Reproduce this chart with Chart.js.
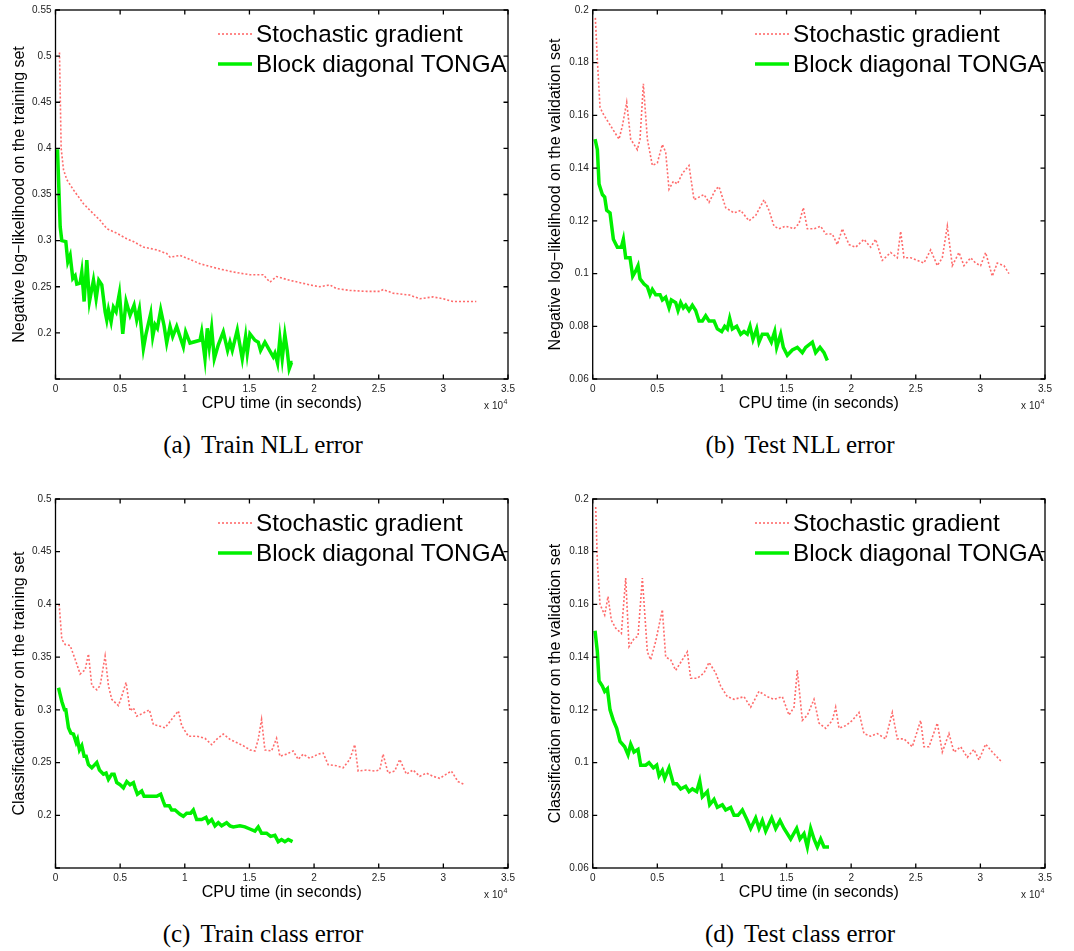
<!DOCTYPE html>
<html>
<head>
<meta charset="utf-8">
<script src="https://cdn.jsdelivr.net/npm/chart.js@4.4.1/dist/chart.umd.min.js"></script>
<style>
  body { margin: 0; background: #fff; }
  #page { position: relative; width: 1074px; height: 951px; overflow: hidden; background: #fff; }
  canvas { position: absolute; }
  .caption {
    position: absolute; width: 534px; text-align: center; line-height: 1;
    font-family: "Liberation Serif", "Times New Roman", serif; font-size: 25px; color: #000;
  }
  .caption .tag { margin-right: 10px; }
</style>
</head>
<body>
<div id="page">
  <canvas id="trainNll" width="534" height="420" style="left:0;top:0"></canvas>
  <canvas id="testNll" width="534" height="420" style="left:534px;top:0"></canvas>
  <canvas id="trainClass" width="534" height="420" style="left:0;top:489px"></canvas>
  <canvas id="testClass" width="534" height="420" style="left:534px;top:489px"></canvas>
  <div class="caption" style="left:-4px;top:432px"><span class="tag">(a)</span>Train NLL error</div>
  <div class="caption" style="left:533px;top:432px"><span class="tag">(b)</span>Test NLL error</div>
  <div class="caption" style="left:-4px;top:921px"><span class="tag">(c)</span>Train class error</div>
  <div class="caption" style="left:533px;top:921px"><span class="tag">(d)</span>Test class error</div>
</div>
<script>
// CPU time in seconds
const seriesNames = ["Stochastic gradient", "Block diagonal TONGA"];

// (a) train NLL
const trainNllSgdTime = [309,438,618,876,1391,2163,2936,3451,3966,4739,5511,6026,6798,7828,8601,8858,9631,10146,11176,12463,13751,15038,16068,16583,17098,18128,19673,20446,21218,21733,22763,24051,25081,25338,26111,27398,28171,29201,29973,30746,31776,32548];
const trainNllSgd = [0.504,0.400,0.377,0.366,0.355,0.340,0.329,0.322,0.313,0.308,0.302,0.299,0.293,0.290,0.286,0.282,0.284,0.281,0.275,0.270,0.266,0.263,0.263,0.255,0.261,0.257,0.252,0.250,0.252,0.248,0.246,0.245,0.245,0.247,0.243,0.241,0.237,0.239,0.237,0.234,0.234,0.234];
const trainNllTongaTime = [155,361,489,798,953,1133,1339,1519,1648,1906,2034,2215,2421,2627,2936,3142,3348,3580,3837,3966,4095,4301,4481,4687,4944,5202,5459,5768,6077,6283,6489,6798,7004,7365,7519,7700,7880,8137,8395,8601,8858,9064,9373,9888,10068,10403,11176,11304,11562,11742,11897,12077,12283,12592,12978,13313,13493,13673,14060,14446,14703,14832,15038,15424,15682,15862,16197,16841,16970,17176,17356,17536,17742,17922,18077,18257,18334];
const trainNllTonga = [0.399,0.315,0.300,0.299,0.277,0.284,0.259,0.262,0.253,0.254,0.266,0.234,0.279,0.234,0.257,0.237,0.257,0.252,0.223,0.214,0.225,0.212,0.228,0.223,0.243,0.199,0.234,0.219,0.230,0.214,0.226,0.183,0.199,0.221,0.196,0.209,0.205,0.225,0.208,0.189,0.207,0.196,0.207,0.185,0.201,0.189,0.192,0.201,0.172,0.205,0.185,0.205,0.172,0.187,0.201,0.181,0.190,0.181,0.203,0.172,0.196,0.178,0.199,0.192,0.190,0.181,0.190,0.174,0.178,0.167,0.194,0.172,0.198,0.181,0.161,0.168,0.168];

// (b) test NLL
const testNllSgdTime = [206,361,567,877,1393,2037,2295,2631,2940,3198,3456,3662,3920,4230,4616,5003,5390,5648,5906,6241,6551,6938,7453,7840,8227,8614,9001,9517,9774,10290,10935,11451,12096,12611,13256,13643,14030,14417,14932,15577,15964,16299,16609,17125,17640,18027,18543,18930,19317,19833,20348,20993,21509,21896,22411,23056,23572,23830,24088,24603,25119,25635,26151,26667,27053,27440,27827,28343,28730,29245,29632,30019,30406,30921,31308,31824,32211];
const testNllSgd = [0.197,0.181,0.163,0.160,0.156,0.151,0.156,0.165,0.151,0.149,0.147,0.151,0.172,0.151,0.141,0.142,0.149,0.146,0.132,0.135,0.134,0.138,0.141,0.128,0.129,0.130,0.127,0.132,0.133,0.125,0.123,0.124,0.120,0.122,0.128,0.124,0.118,0.117,0.118,0.117,0.119,0.125,0.117,0.117,0.118,0.115,0.115,0.111,0.117,0.111,0.110,0.113,0.110,0.113,0.105,0.108,0.106,0.116,0.106,0.106,0.105,0.104,0.109,0.103,0.106,0.118,0.103,0.108,0.103,0.106,0.104,0.103,0.108,0.099,0.104,0.103,0.100];
const testNllTongaTime = [181,361,490,748,928,1083,1341,1599,1908,2218,2373,2553,2888,3095,3327,3507,3662,3972,4230,4436,4616,4874,5210,5390,5648,5906,6086,6422,6602,6809,7015,7195,7453,7711,7969,8227,8485,8743,9001,9388,9645,9981,10213,10419,10600,10806,11141,11451,11709,11967,12173,12405,12689,12869,13127,13514,13824,14082,14236,14546,14752,15061,15448,15835,16222,16480,16996,17253,17589,17898,18156];
const testNllTonga = [0.151,0.147,0.134,0.130,0.129,0.124,0.123,0.113,0.110,0.110,0.113,0.106,0.106,0.099,0.101,0.103,0.098,0.096,0.095,0.092,0.094,0.092,0.092,0.090,0.091,0.087,0.090,0.089,0.086,0.089,0.087,0.088,0.086,0.088,0.086,0.082,0.082,0.084,0.082,0.082,0.079,0.078,0.080,0.079,0.083,0.079,0.080,0.077,0.078,0.077,0.080,0.075,0.079,0.074,0.077,0.077,0.074,0.078,0.072,0.077,0.072,0.069,0.071,0.072,0.070,0.072,0.074,0.070,0.072,0.070,0.067];

// (c) train classification error
const trainClassSgdTime = [283,489,747,1133,1519,1906,2292,2549,2807,3193,3451,3837,4094,4352,4867,5124,5459,5768,6026,6283,6798,7262,7571,7957,8472,8987,9502,9760,10275,10918,11562,12077,12463,12978,13493,14008,14523,15038,15424,15682,15939,16197,16712,17098,17356,17871,18386,18772,19158,19673,20317,20703,21089,21733,22248,22763,23149,23407,24051,24694,25081,25338,25724,26239,26626,27141,27656,28171,28686,29201,29716,30231,30617,31132,31647];
const trainClassSgd = [0.400,0.367,0.362,0.361,0.348,0.334,0.338,0.353,0.323,0.319,0.323,0.351,0.323,0.310,0.304,0.313,0.326,0.299,0.302,0.294,0.297,0.300,0.286,0.285,0.283,0.291,0.299,0.285,0.275,0.275,0.273,0.267,0.272,0.277,0.272,0.269,0.266,0.262,0.261,0.272,0.291,0.262,0.261,0.273,0.256,0.258,0.261,0.253,0.258,0.254,0.258,0.259,0.248,0.247,0.245,0.253,0.267,0.242,0.243,0.242,0.243,0.258,0.240,0.242,0.253,0.239,0.243,0.237,0.240,0.237,0.235,0.239,0.242,0.232,0.229];
const trainClassTongaTime = [232,489,695,798,1004,1185,1391,1597,1700,1854,2034,2215,2369,2549,2807,3193,3399,3708,3914,4094,4352,4532,4738,4996,5253,5511,5768,6026,6154,6335,6669,6850,7184,7828,8137,8343,8472,8807,8987,9244,9631,9888,10146,10455,10661,10918,11304,11639,11819,12077,12334,12592,12849,13236,13493,13751,14266,14652,15038,15424,15682,15939,16326,16635,16970,17228,17485,17742,18000,18334];
const trainClassTonga = [0.321,0.308,0.300,0.300,0.283,0.278,0.277,0.269,0.272,0.262,0.266,0.256,0.256,0.248,0.245,0.250,0.243,0.239,0.240,0.234,0.239,0.239,0.231,0.229,0.226,0.232,0.229,0.231,0.226,0.220,0.223,0.218,0.218,0.218,0.220,0.213,0.209,0.209,0.205,0.205,0.201,0.199,0.202,0.202,0.205,0.196,0.196,0.198,0.193,0.196,0.190,0.193,0.190,0.193,0.190,0.189,0.190,0.189,0.187,0.185,0.189,0.183,0.183,0.180,0.181,0.175,0.177,0.175,0.177,0.175];

// (d) test classification error
const testClassSgdTime = [232,361,567,928,1186,1444,1779,2218,2553,2811,3198,3507,3843,4230,4487,4874,5390,5648,6035,6422,6938,7324,7582,8098,8614,9001,9517,9903,10419,10935,11709,12225,12869,13514,14030,14674,15190,15577,15835,16222,16609,17125,17511,18027,18543,18801,19059,19575,20090,20606,20993,21509,22025,22670,23185,23572,24088,24733,25377,25635,26022,26667,27053,27569,27956,28472,28988,29504,29890,30406,30921,31308,31695];
const testClassSgd = [0.197,0.176,0.160,0.156,0.163,0.154,0.151,0.149,0.170,0.144,0.147,0.148,0.170,0.142,0.139,0.146,0.158,0.140,0.139,0.135,0.139,0.142,0.132,0.132,0.134,0.138,0.134,0.129,0.125,0.124,0.125,0.121,0.127,0.125,0.124,0.125,0.118,0.121,0.135,0.116,0.118,0.124,0.115,0.113,0.116,0.121,0.113,0.114,0.116,0.119,0.111,0.110,0.111,0.109,0.119,0.109,0.109,0.106,0.116,0.106,0.106,0.115,0.104,0.111,0.104,0.106,0.102,0.105,0.101,0.107,0.104,0.102,0.100];
const testClassTongaTime = [181,361,490,748,928,1135,1341,1599,1857,2115,2476,2734,2940,3198,3507,3714,4101,4359,4694,4952,5132,5390,5571,5906,6241,6499,6809,7195,7453,7711,8047,8279,8485,8872,9052,9388,9645,10032,10290,10677,10935,11245,11580,11967,12225,12611,12869,13127,13385,13849,14159,14494,14804,15319,15784,16041,16351,16609,16867,17125,17382,17640,17898,18285];
const testClassTonga = [0.150,0.142,0.131,0.129,0.127,0.128,0.120,0.116,0.113,0.108,0.106,0.103,0.107,0.104,0.105,0.099,0.099,0.100,0.098,0.099,0.095,0.097,0.094,0.098,0.092,0.092,0.090,0.091,0.089,0.090,0.089,0.093,0.087,0.089,0.084,0.086,0.083,0.084,0.082,0.083,0.080,0.080,0.082,0.078,0.075,0.079,0.075,0.078,0.074,0.079,0.075,0.078,0.075,0.071,0.075,0.071,0.073,0.068,0.075,0.071,0.068,0.071,0.068,0.068];

const sansFont = '"Liberation Sans", Arial, Helvetica, sans-serif';

const toPoints = (xs, ys) => xs.map((t, i) => ({ x: t, y: ys[i] }));

// matlab style box, inward ticks, legend inside the axes and the x10^4 note
const matlabFrame = {
  id: "matlabFrame",
  afterDraw(chart) {
    const { ctx, chartArea: a } = chart;
    const x = chart.scales.x, y = chart.scales.y;
    ctx.save();

    ctx.textBaseline = "middle";
    ctx.font = "24.3px " + sansFont;
    chart.data.datasets.forEach((ds, i) => {
      const ly = a.top + 24 + i * 30;
      ctx.beginPath();
      ctx.strokeStyle = ds.borderColor;
      ctx.lineWidth = ds.borderWidth;
      ctx.setLineDash(ds.borderDash || []);
      ctx.moveTo(a.right - 290, ly);
      ctx.lineTo(a.right - 256, ly);
      ctx.stroke();
      ctx.setLineDash([]);
      ctx.fillStyle = "#000";
      ctx.textAlign = "left";
      ctx.fillText(ds.label, a.right - 252, ly + 1);
    });

    ctx.strokeStyle = "#000";
    ctx.lineWidth = 1.3;
    ctx.strokeRect(a.left, a.top, a.right - a.left, a.bottom - a.top);

    const tl = 4.5;
    ctx.beginPath();
    x.ticks.forEach((tk) => {
      const px = x.getPixelForValue(tk.value);
      ctx.moveTo(px, a.bottom); ctx.lineTo(px, a.bottom - tl);
      ctx.moveTo(px, a.top); ctx.lineTo(px, a.top + tl);
    });
    y.ticks.forEach((tk) => {
      const py = y.getPixelForValue(tk.value);
      ctx.moveTo(a.left, py); ctx.lineTo(a.left + tl, py);
      ctx.moveTo(a.right, py); ctx.lineTo(a.right - tl, py);
    });
    ctx.stroke();

    ctx.fillStyle = "#222";
    ctx.font = "10px " + sansFont;
    ctx.textAlign = "right";
    ctx.fillText("x 10", a.right - 5, a.bottom + 27);
    ctx.font = "7px " + sansFont;
    ctx.textAlign = "left";
    ctx.fillText("4", a.right - 4.5, a.bottom + 23);
    ctx.restore();
  },
};

function makeChart(canvasId, cfg) {
  const titleCenter = cfg.titleX;
  const padLeft = titleCenter - 9.6;
  return new Chart(document.getElementById(canvasId), {
    type: "line",
    data: {
      datasets: [
        {
          label: seriesNames[0],
          data: toPoints(cfg.sgdTime, cfg.sgd),
          borderColor: "rgba(255, 70, 70, 0.8)",
          borderWidth: 1.6,
          borderDash: [2, 2],
          pointRadius: 0,
          tension: 0,
        },
        {
          label: seriesNames[1],
          data: toPoints(cfg.tongaTime, cfg.tonga),
          borderColor: "#00f000",
          borderWidth: 3.5,
          pointRadius: 0,
          tension: 0,
        },
      ],
    },
    options: {
      responsive: false,
      animation: false,
      devicePixelRatio: 1,
      layout: { padding: { left: padLeft, top: 10, right: 534 - cfg.right, bottom: 7 } },
      plugins: { legend: { display: false }, tooltip: { enabled: false } },
      scales: {
        x: {
          type: "linear",
          min: 0,
          max: 35000,
          grid: { display: false, drawTicks: false },
          border: { display: false },
          ticks: {
            stepSize: 5000,
            autoSkip: false,
            maxRotation: 0,
            padding: 4,
            color: "#222",
            font: { family: sansFont, size: 10 },
            callback: (v) => String(v / 10000),
          },
          title: {
            display: true,
            text: "CPU time (in seconds)",
            color: "#000",
            padding: 0,
            font: { family: sansFont, size: 16 },
          },
          afterFit: (s) => { s.height = 34; },
        },
        y: {
          min: cfg.yMin,
          max: cfg.yMax,
          grid: { display: false, drawTicks: false },
          border: { display: false },
          ticks: {
            stepSize: cfg.yStep,
            autoSkip: false,
            padding: 4,
            color: "#222",
            font: { family: sansFont, size: 10 },
            callback: (v) => (v < cfg.hideBelow ? "" : String(+v.toFixed(2))),
          },
          title: {
            display: true,
            text: cfg.yTitle,
            color: "#000",
            padding: 0,
            font: { family: sansFont, size: 16 },
          },
          afterFit: (s) => { s.width = cfg.left - padLeft; },
        },
      },
    },
    plugins: [matlabFrame],
  });
}

makeChart("trainNll", {
  sgdTime: trainNllSgdTime, sgd: trainNllSgd, tongaTime: trainNllTongaTime, tonga: trainNllTonga,
  yMin: 0.15, yMax: 0.55, yStep: 0.05, hideBelow: 0.16,
  yTitle: "Negative log\u2212likelihood on the training set",
  titleX: 20, left: 55.5, right: 508,
});
makeChart("testNll", {
  sgdTime: testNllSgdTime, sgd: testNllSgd, tongaTime: testNllTongaTime, tonga: testNllTonga,
  yMin: 0.06, yMax: 0.2, yStep: 0.02, hideBelow: 0,
  yTitle: "Negative log\u2212likelihood on the validation set",
  titleX: 21.7, left: 58.7, right: 511,
});
makeChart("trainClass", {
  sgdTime: trainClassSgdTime, sgd: trainClassSgd, tongaTime: trainClassTongaTime, tonga: trainClassTonga,
  yMin: 0.15, yMax: 0.5, yStep: 0.05, hideBelow: 0.16,
  yTitle: "Classification error on the training set",
  titleX: 19.5, left: 55.5, right: 508,
});
makeChart("testClass", {
  sgdTime: testClassSgdTime, sgd: testClassSgd, tongaTime: testClassTongaTime, tonga: testClassTonga,
  yMin: 0.06, yMax: 0.2, yStep: 0.02, hideBelow: 0,
  yTitle: "Classification error on the validation set",
  titleX: 21.7, left: 58.7, right: 511,
});
</script>
</body>
</html>
